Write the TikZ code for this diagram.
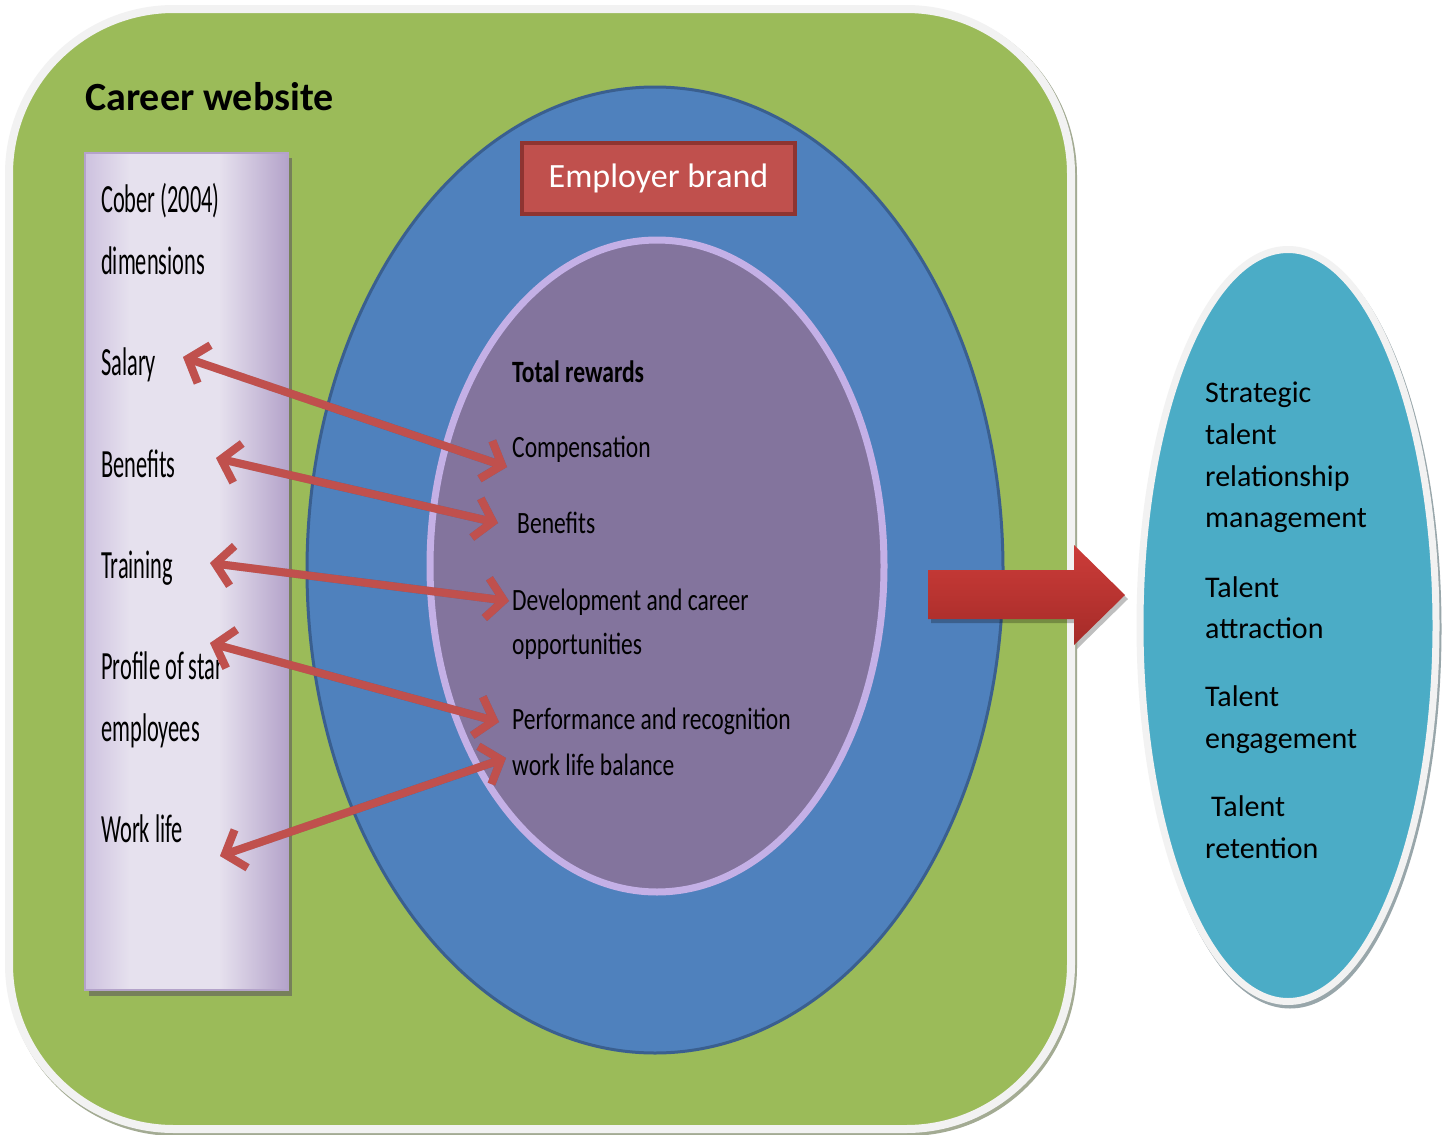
\documentclass[tikz,border=0pt]{standalone}
\usepackage{fontspec}
\setmainfont{Carlito}
\newfontfamily\narrowfont[FakeStretch=0.56]{Carlito}
\newfontfamily\condfont[FakeStretch=0.76]{Carlito}
\usetikzlibrary{arrows.meta}

\definecolor{siteGreen}{HTML}{9BBB59}
\definecolor{siteEdge}{HTML}{F2F2F2}
\definecolor{siteShadow}{HTML}{A3AB93}
\definecolor{brandBlue}{HTML}{4F81BD}
\definecolor{brandBlueEdge}{HTML}{3A5F8F}
\definecolor{rewardPurple}{HTML}{83749D}
\definecolor{rewardEdge}{HTML}{C4B0E6}
\definecolor{boxLight}{HTML}{E6E1EE}
\definecolor{boxLeft}{HTML}{CDC1DF}
\definecolor{boxRight}{HTML}{B4A3CA}
\definecolor{boxShadow}{HTML}{76805A}
\definecolor{linkRed}{HTML}{C0504D}
\definecolor{brandRedEdge}{HTML}{8E3431}
\definecolor{blockTop}{HTML}{CC3C39}
\definecolor{blockBottom}{HTML}{A52B28}
\definecolor{talentCyan}{HTML}{4BACC6}
\definecolor{talentShadow}{HTML}{98A6AA}

% light centre band with darker lavender edges
\pgfdeclarehorizontalshading{boxfade}{100bp}{
  color(0bp)=(boxLeft); color(25bp)=(boxLeft); color(36bp)=(boxLight);
  color(58bp)=(boxLight); color(75bp)=(boxRight); color(100bp)=(boxRight)}

\tikzset{
  dimtext/.style={anchor=base west, inner sep=0pt, font=\narrowfont\fontsize{40}{48}\selectfont},
  rewardtext/.style={anchor=base west, inner sep=0pt, font=\condfont\fontsize{31}{37}\selectfont},
  talenttext/.style={anchor=base west, inner sep=0pt, font=\fontsize{30}{36}\selectfont},
  linkarrow/.style={draw=linkRed, line width=8pt,
    {Straight Barb[length=17pt,width=40pt]}-{Straight Barb[length=17pt,width=40pt]}},
  linkshadow/.style={draw=black, opacity=0.18, line width=8pt,
    {Straight Barb[length=17pt,width=40pt]}-{Straight Barb[length=17pt,width=40pt]}}
}

\begin{document}
\begin{tikzpicture}[x=1pt,y=-1pt]
\useasboundingbox (0,0) rectangle (1451,1135);
\fill[white] (0,0) rectangle (1451,1135);

% career website panel
\draw[siteShadow, line width=8pt, rounded corners=165pt] (11,11) rectangle (1073,1132);
\draw[siteEdge, fill=siteGreen, line width=8pt, rounded corners=165pt] (9,9) rectangle (1071,1129);
\node[anchor=base west, inner sep=0pt, font=\bfseries\fontsize{40}{48}\selectfont] (site) at (85,110) {Career website};

% Cober dimensions column
\fill[boxShadow] (89,158) rectangle (292,996);
\shade[shading=boxfade] (85,153) rectangle (288,990);
\draw[boxRight, line width=2pt] (85,153) rectangle (288,990);
\node[dimtext] (cober) at (101,212) {Cober (2004)};
\node[dimtext] (dims) at (101,274) {dimensions};
\node[dimtext] (salary) at (101,375) {Salary};
\node[dimtext] (benefitsL) at (101,477) {Benefits};
\node[dimtext] (training) at (101,578) {Training};
\node[dimtext] (profile) at (101,679) {Profile of star};
\node[dimtext] (employees) at (101,741) {employees};
\node[dimtext] (worklife) at (101,842) {Work life};

% employer brand and total rewards
\draw[brandBlueEdge, fill=brandBlue, line width=3pt] (655,570) ellipse [x radius=348, y radius=483];
\draw[brandRedEdge, fill=linkRed, line width=4pt] (522,143) rectangle (795,214);
\node[text=white, font=\fontsize{34}{40}\selectfont, inner sep=0pt] (brand) at (658.5,178) {Employer brand};
\draw[rewardEdge, fill=rewardPurple, line width=7pt] (657,566) ellipse [x radius=227, y radius=326];

\node[rewardtext, font=\condfont\bfseries\fontsize{31}{37}\selectfont] (total) at (512,382) {Total rewards};
\node[rewardtext] (comp) at (512,457) {Compensation};
\node[rewardtext] (benefitsR) at (517,533) {Benefits};
\node[rewardtext] (devel) at (512,610) {Development and career};
\node[rewardtext] (opps) at (512,654) {opportunities};
\node[rewardtext] (perf) at (512,729) {Performance and recognition};
\node[rewardtext] (wlb) at (512,775) {work life balance};

% arrow end points
\coordinate (aSal) at (183,357);
\coordinate (bSal) at (507,467);
\coordinate (aBen) at (216,458);
\coordinate (bBen) at (498,523);
\coordinate (aTra) at (210,563);
\coordinate (bTra) at (509,601);
\coordinate (aPro) at (210,643);
\coordinate (bPro) at (499,722);
\coordinate (aWor) at (220,856);
\coordinate (bWor) at (506,758);

\begin{scope}[shift={(2,3)}]
\draw[linkshadow] (aSal) -- (bSal);
\draw[linkshadow] (aBen) -- (bBen);
\draw[linkshadow] (aTra) -- (bTra);
\draw[linkshadow] (aPro) -- (bPro);
\draw[linkshadow] (aWor) -- (bWor);
\end{scope}
\draw[linkarrow] (aSal) -- (bSal);
\draw[linkarrow] (aBen) -- (bBen);
\draw[linkarrow] (aTra) -- (bTra);
\draw[linkarrow] (aPro) -- (bPro);
\draw[linkarrow] (aWor) -- (bWor);

% talent management ellipse
\draw[talentShadow, line width=7pt] (1290,629) ellipse [x radius=148, y radius=376];
\draw[siteEdge, fill=talentCyan, line width=7pt] (1288,625.5) ellipse [x radius=148, y radius=376];
\node[talenttext] (t1) at (1205,402) {Strategic};
\node[talenttext] (t2) at (1205,444) {talent};
\node[talenttext] (t3) at (1205,486) {relationship};
\node[talenttext] (t4) at (1205,527) {management};
\node[talenttext] (t5) at (1205,597) {Talent};
\node[talenttext] (t6) at (1205,638) {attraction};
\node[talenttext] (t7) at (1205,706) {Talent};
\node[talenttext] (t8) at (1205,748) {engagement};
\node[talenttext] (t9) at (1211,816) {Talent};
\node[talenttext] (t10) at (1205,858) {retention};

% block arrow towards talent management
\fill[black, opacity=0.25] (931,574) -- (1077,574) -- (1077,549) -- (1128,599)
  -- (1077,649) -- (1077,623) -- (931,623) -- cycle;
\shade[top color=blockTop, bottom color=blockBottom] (928,570) -- (1074,570) -- (1074,545)
  -- (1125,595) -- (1074,645) -- (1074,619) -- (928,619) -- cycle;
\end{tikzpicture}
\end{document}
